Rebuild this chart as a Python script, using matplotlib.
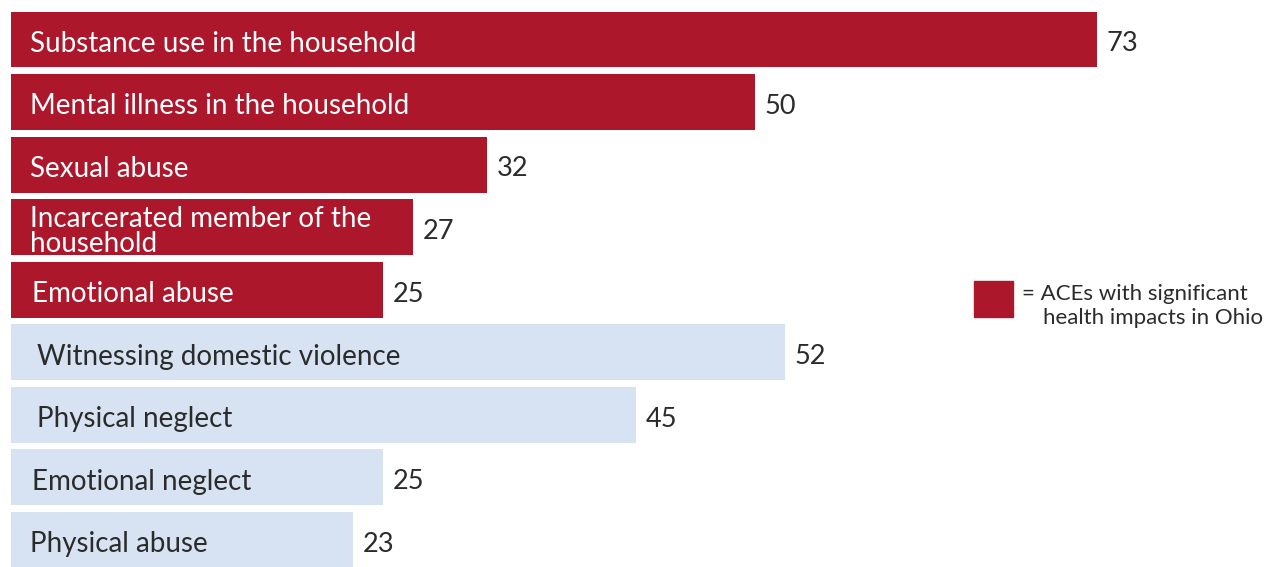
import matplotlib.pyplot as plt

# ACE categories, top to bottom
categories = [
    'Substance use in the household',
    'Mental illness in the household',
    'Sexual abuse',
    'Incarcerated member of the\nhousehold',
    'Emotional abuse',
    'Witnessing domestic violence',
    'Physical neglect',
    'Emotional neglect',
    'Physical abuse',
]
values = [73, 50, 32, 27, 25, 52, 45, 25, 23]
# bar lengths as drawn in the source (Physical neglect bar is drawn shorter than its label)
bar_lengths = [73, 50, 32, 27, 25, 52, 42, 25, 23]
significant = [True, True, True, True, True, False, False, False, False]

red = '#AD172B'
blue = '#D7E3F3'
dark = '#2b2b2b'

plt.rcParams['font.family'] = ['Lato', 'DejaVu Sans']

fig = plt.figure(figsize=(12.86, 5.67), dpi=100)
ax = fig.add_axes([0, 0, 1, 1])

ys = list(range(len(categories)))
colors = [red if s else blue for s in significant]
ax.barh(ys, bar_lengths, height=0.895, color=colors, left=0)

# small per-bar text indents seen in the source
indent = [1.3, 1.3, 1.3, 1.3, 1.4, 1.75, 1.75, 1.4, 1.3]
for y, cat, val, ln, sig, ind in zip(ys, categories, values, bar_lengths, significant, indent):
    ax.text(ind, y + 0.07, cat, va='center', ha='left', fontsize=20,
            color='white' if sig else dark, linespacing=0.97)
    ax.text(ln + 0.65, y + 0.07, str(val), va='center', ha='left', fontsize=19.5,
            color=dark)

# legend box
ax.add_patch(plt.Rectangle((64.73, 3.86), 2.62, 0.575, color=red))
ax.text(67.98, 4.07, '= ACEs with significant', va='center', ha='left',
        fontsize=16, color=dark)
ax.text(69.4, 4.45, 'health impacts in Ohio', va='center', ha='left',
        fontsize=16, color=dark)

ax.set_xlim(-11 / 14.877, (1286 - 11) / 14.877)
ax.set_ylim((567 - 39.5) / 62.56, -39.5 / 62.56)
ax.axis('off')

fig.savefig('out.png', dpi=100)
